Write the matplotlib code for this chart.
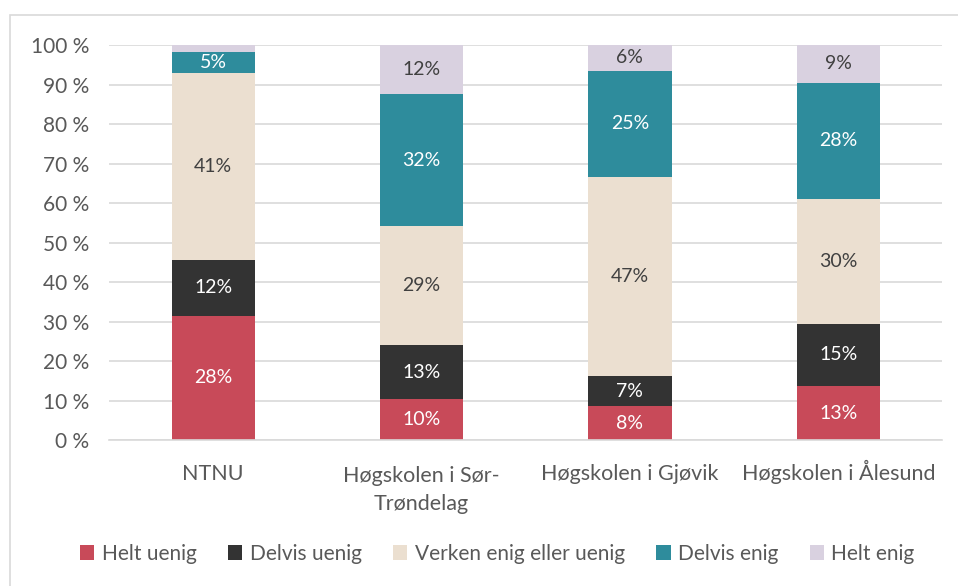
import matplotlib.pyplot as plt
import matplotlib.patches as mpatches
import numpy as np

plt.rcParams['font.family'] = ['Lato', 'DejaVu Sans']

skoler = ['NTNU', 'Høgskolen i Sør-\nTrøndelag', 'Høgskolen i Gjøvik', 'Høgskolen i Ålesund']
kategorier = ['Helt uenig', 'Delvis uenig', 'Verken enig eller uenig', 'Delvis enig', 'Helt enig']

helt_uenig = [27.6, 10, 8, 13]
delvis_uenig = [12.4, 13, 7, 15]
verken = [41.3, 29, 47, 30]
delvis_enig = [4.6, 32, 25, 28]
helt_enig = [1.6, 12, 6, 9]

farger = ['#C84A59', '#333333', '#EBDFD0', '#2E8C9C', '#D9D1E0']
tekstfarger = ['white', 'white', '#404040', 'white', '#404040']

serier = np.array([helt_uenig, delvis_uenig, verken, delvis_enig, helt_enig], dtype=float)
andel = serier / serier.sum(axis=0) * 100

fig = plt.figure(figsize=(9.58, 5.86), dpi=100)
ax = fig.add_axes([0.1138, 0.249, 0.870, 0.674])

# ramme rundt diagrammet
fig.patches.append(mpatches.Rectangle((10 / 958, -0.1), 1.1, 1 - 15 / 586 + 0.1,
                                      transform=fig.transFigure, fill=False,
                                      edgecolor='#D9D9D9', linewidth=1.2))

x = np.arange(len(skoler))
bunn = np.zeros(len(skoler))
for i, navn in enumerate(kategorier):
    ax.bar(x, andel[i], 0.4, bottom=bunn, color=farger[i], label=navn, zorder=2)
    for j in range(len(skoler)):
        if serier[i, j] >= 3:
            ax.text(x[j], bunn[j] + andel[i, j] / 2, f'{round(serier[i, j])}%',
                    ha='center', va='center', fontsize=14, color=tekstfarger[i])
    bunn += andel[i]

ax.set_xlim(-0.5, 3.5)
ax.set_ylim(0, 100)
ax.set_yticks(np.arange(0, 101, 10))
ax.set_yticklabels([f'{v} %' for v in range(0, 101, 10)])
ax.set_xticks(x)
ax.set_xticklabels([])
ax.tick_params(length=0, labelsize=15, colors='#595959')
ax.tick_params(axis='y', pad=14)

# kategorinavn med felles grunnlinje for første linje
for xi, navn in zip(x, skoler):
    linjer = navn.count('\n')
    ax.annotate(navn, xy=(xi, 0), xycoords=('data', 'axes fraction'),
                xytext=(0, -40 - 30 * linjer), textcoords='offset pixels',
                ha='center', va='baseline', fontsize=15.5, color='#595959',
                linespacing=1.5)

ax.grid(axis='y', color='#D9D9D9', linewidth=1.2, zorder=0)
for s in ['top', 'right', 'left']:
    ax.spines[s].set_visible(False)
ax.spines['bottom'].set_color('#D9D9D9')
ax.spines['bottom'].set_linewidth(1.2)

fig.legend(loc='center', bbox_to_anchor=(0.519, 1 - 554 / 586), ncol=5, frameon=False,
           fontsize=15, labelcolor='#595959', handlelength=0.7, handleheight=0.7,
           handletextpad=0.35, columnspacing=1.5)

fig.savefig('out.png', dpi=100)
